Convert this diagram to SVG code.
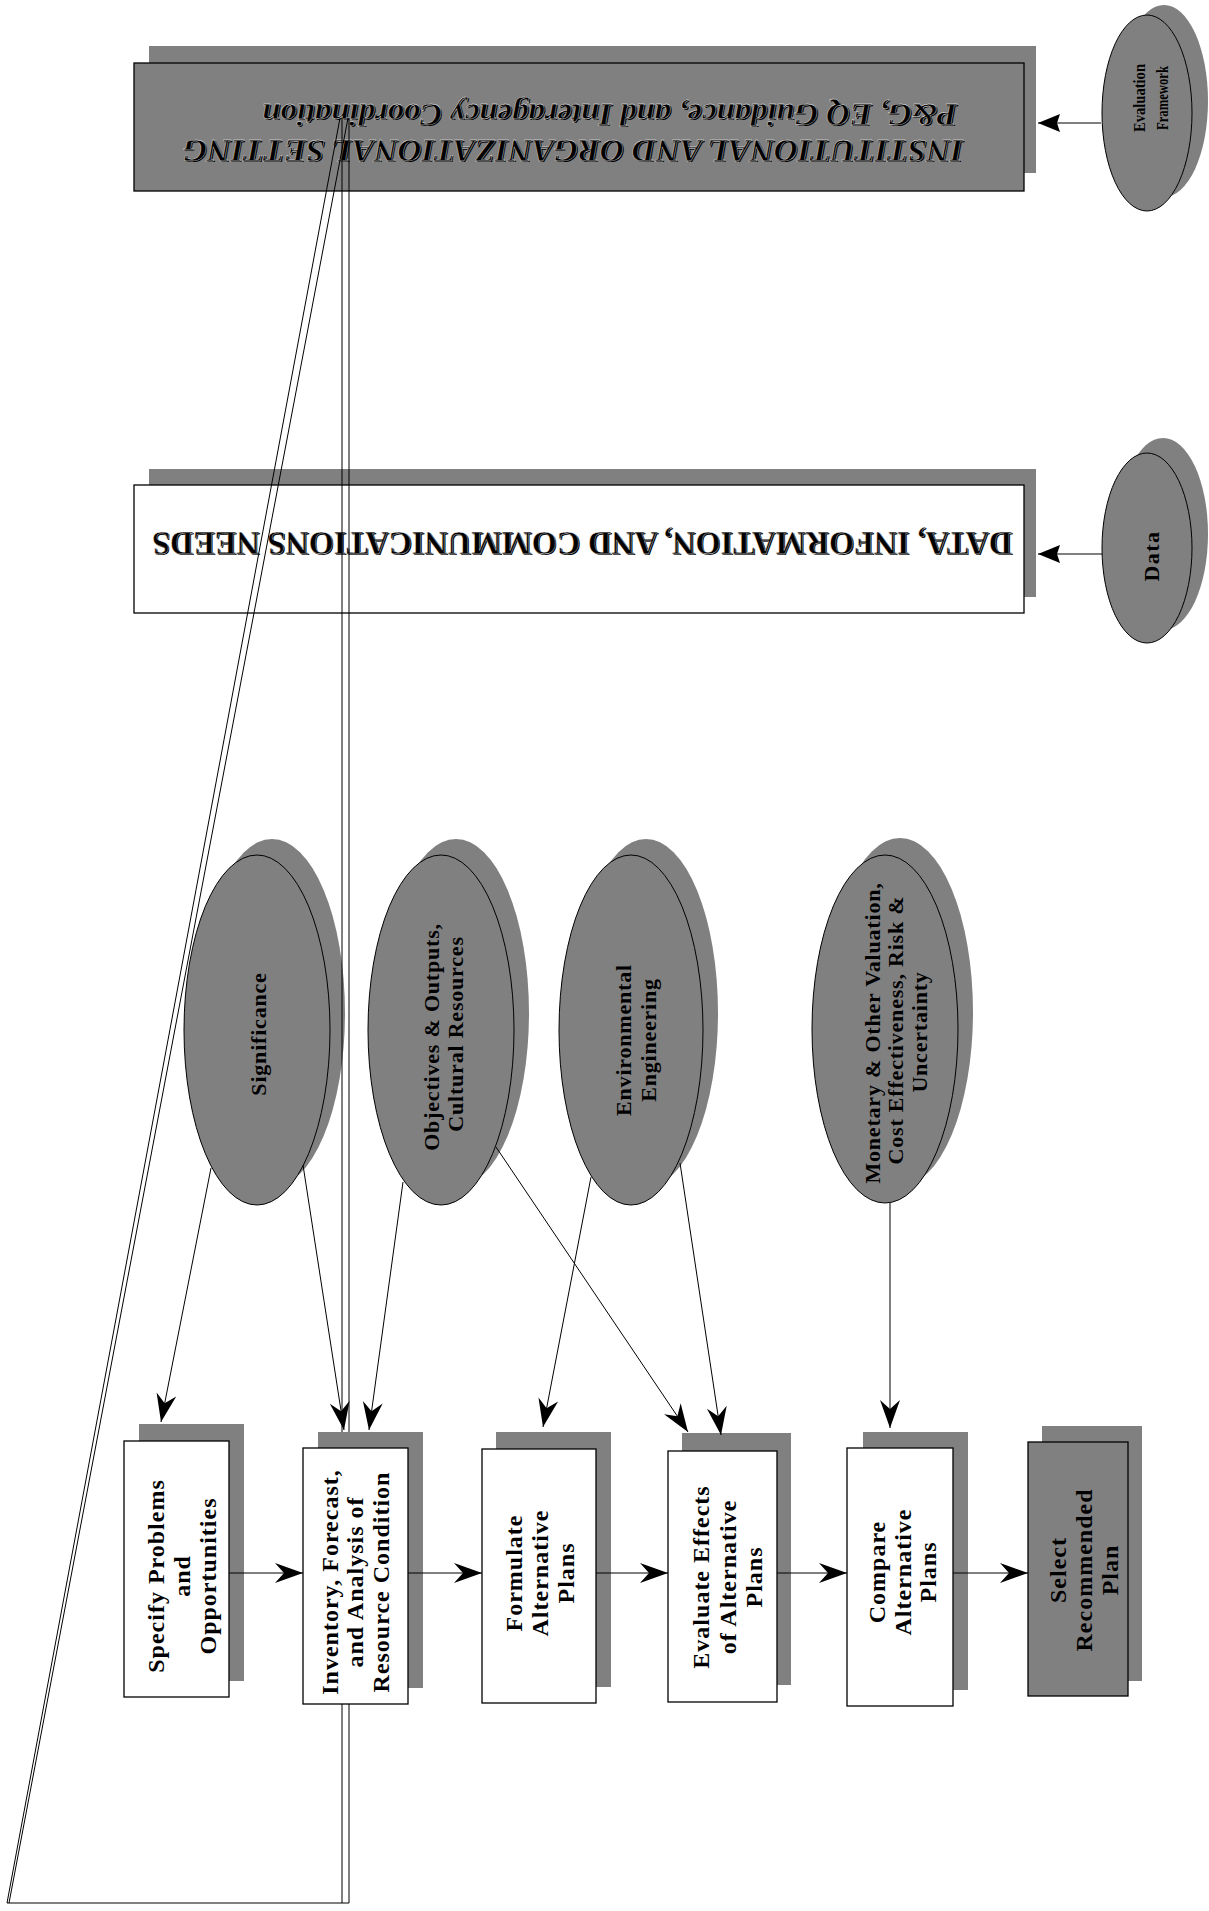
<svg xmlns="http://www.w3.org/2000/svg" width="1209" height="1911" viewBox="0 0 1209 1911">
<style>
.sh{fill:#808080}
.box{fill:#fff;stroke:#000;stroke-width:1.3}
.gbox{fill:#808080;stroke:#000;stroke-width:1.3}
.ell{fill:#808080;stroke:#000;stroke-width:1}
.t{font-family:"Liberation Serif",serif;font-weight:bold;font-size:24px;letter-spacing:1px;text-anchor:middle;fill:#000}
.et{font-family:"Liberation Serif",serif;font-weight:bold;font-size:22px;letter-spacing:0.8px;text-anchor:middle;fill:#000}
.st{font-family:"Liberation Serif",serif;font-weight:bold;text-anchor:middle;fill:#000}
.cap{font-family:"Liberation Serif",serif;font-weight:bold;fill:#000}
.capw{stroke:#fff;stroke-width:0.35}
.ln{stroke:#000;stroke-width:1;fill:none}
.ar{stroke:#000;stroke-width:1;fill:none;marker-end:url(#ah)}
.ar2{stroke:#000;stroke-width:1;fill:none;marker-end:url(#ah2)}
</style>
<defs>
<marker id="ah" viewBox="-29 -11 30 22" refX="0" refY="0" markerWidth="30" markerHeight="22" markerUnits="userSpaceOnUse" orient="auto"><path d="M0,0 L-28,-10 L-19,0 L-28,10 Z" fill="#000"/></marker>
<marker id="ah2" viewBox="-24 -10 25 20" refX="0" refY="0" markerWidth="25" markerHeight="20" markerUnits="userSpaceOnUse" orient="auto"><path d="M0,0 L-22,-9 L-19,0 L-22,9 Z" fill="#000"/></marker>
</defs>
<rect width="1209" height="1911" fill="#fff"/>

<g id="institutional">
<rect class="sh" x="149" y="46" width="887" height="127"/>
<rect class="gbox" x="134" y="63" width="890" height="128"/>
<g transform="translate(963,140) rotate(180)">
<text class="cap" x="-1.2" y="-1.2" font-size="32" font-style="italic" textLength="780" lengthAdjust="spacingAndGlyphs">INSTITUTIONAL AND ORGANIZATIONAL SETTING</text>
<text class="cap capw" x="0" y="0" font-size="32" font-style="italic" textLength="780" lengthAdjust="spacingAndGlyphs">INSTITUTIONAL AND ORGANIZATIONAL SETTING</text>
</g>
<g transform="translate(957,104) rotate(180)">
<text class="cap" x="-1.2" y="-1.2" font-size="31" font-style="italic" textLength="695" lengthAdjust="spacingAndGlyphs">P&amp;G, EQ Guidance, and Interagency Coordination</text>
<text class="cap capw" x="0" y="0" font-size="31" font-style="italic" textLength="695" lengthAdjust="spacingAndGlyphs">P&amp;G, EQ Guidance, and Interagency Coordination</text>
</g>
</g>

<g id="evaluation-framework">
<ellipse class="sh" cx="1164" cy="101" rx="44" ry="96"/>
<ellipse class="ell" cx="1147" cy="113" rx="45" ry="98"/>
<text class="st" style="font-size:16.5px" transform="translate(1145,98) rotate(-90)" textLength="68" lengthAdjust="spacingAndGlyphs">Evaluation</text>
<text class="st" style="font-size:16.5px" transform="translate(1168,98) rotate(-90)" textLength="64" lengthAdjust="spacingAndGlyphs">Framework</text>
</g>

<g id="data-needs">
<rect class="sh" x="149" y="469" width="887" height="128"/>
<rect class="box" x="134" y="485" width="890" height="128"/>
<g transform="translate(1012,532) rotate(180)">
<text class="cap" x="-1.2" y="-1.2" font-size="34" textLength="860" lengthAdjust="spacingAndGlyphs">DATA, INFORMATION, AND COMMUNICATIONS NEEDS</text>
<text class="cap capw" x="0" y="0" font-size="34" textLength="860" lengthAdjust="spacingAndGlyphs">DATA, INFORMATION, AND COMMUNICATIONS NEEDS</text>
</g>
</g>

<g id="data">
<ellipse class="sh" cx="1163" cy="534" rx="45" ry="96"/>
<ellipse class="ell" cx="1147" cy="548" rx="45" ry="95"/>
<text class="st" style="font-size:22px;letter-spacing:1.5px" transform="translate(1159,556) rotate(-90)">Data</text>
</g>

<g id="significance">
<ellipse class="sh" cx="272" cy="1013" rx="73" ry="174"/>
<ellipse class="ell" cx="257" cy="1030" rx="73" ry="175"/>
<text class="et" transform="translate(266,1034) rotate(-90)">Significance</text>
</g>

<g id="objectives">
<ellipse class="sh" cx="456" cy="1013" rx="73" ry="174"/>
<ellipse class="ell" cx="441" cy="1030" rx="73" ry="175"/>
<text class="et" transform="translate(439,1037) rotate(-90)">Objectives &amp; Outputs,</text>
<text class="et" transform="translate(463,1034) rotate(-90)">Cultural Resources</text>
</g>

<g id="environmental">
<ellipse class="sh" cx="646" cy="1013" rx="72" ry="174"/>
<ellipse class="ell" cx="631" cy="1030" rx="72" ry="175"/>
<text class="et" transform="translate(631,1040) rotate(-90)">Environmental</text>
<text class="et" transform="translate(656,1040) rotate(-90)">Engineering</text>
</g>

<g id="monetary">
<ellipse class="sh" cx="900" cy="1012" rx="73" ry="174"/>
<ellipse class="ell" cx="885" cy="1029" rx="73" ry="174"/>
<text class="et" transform="translate(880,1033) rotate(-90)">Monetary &amp; Other Valuation,</text>
<text class="et" transform="translate(903,1030) rotate(-90)">Cost Effectiveness, Risk &amp;</text>
<text class="et" transform="translate(927,1032) rotate(-90)">Uncertainty</text>
</g>

<g id="specify">
<rect class="sh" x="139" y="1424" width="105" height="257"/>
<rect class="box" x="124" y="1441" width="105" height="256"/>
<text class="t" transform="translate(164,1576) rotate(-90)">Specify Problems</text>
<text class="t" transform="translate(190,1576) rotate(-90)">and</text>
<text class="t" transform="translate(216,1576) rotate(-90)">Opportunities</text>
</g>

<g id="inventory">
<rect class="sh" x="318" y="1432" width="105" height="256"/>
<rect class="box" x="303" y="1448" width="105" height="256"/>
<text class="t" transform="translate(338,1582) rotate(-90)">Inventory, Forecast,</text>
<text class="t" transform="translate(363,1582) rotate(-90)">and Analysis of</text>
<text class="t" transform="translate(389,1582) rotate(-90)">Resource Condition</text>
</g>

<g id="formulate">
<rect class="sh" x="496" y="1432" width="115" height="255"/>
<rect class="box" x="482" y="1449" width="114" height="254"/>
<text class="t" transform="translate(522,1573) rotate(-90)">Formulate</text>
<text class="t" transform="translate(548,1573) rotate(-90)">Alternative</text>
<text class="t" transform="translate(574,1573) rotate(-90)">Plans</text>
</g>

<g id="evaluate">
<rect class="sh" x="682" y="1433" width="109" height="252"/>
<rect class="box" x="668" y="1451" width="109" height="251"/>
<text class="t" transform="translate(709,1577) rotate(-90)">Evaluate Effects</text>
<text class="t" transform="translate(736,1577) rotate(-90)">of Alternative</text>
<text class="t" transform="translate(762,1577) rotate(-90)">Plans</text>
</g>

<g id="compare">
<rect class="sh" x="863" y="1432" width="105" height="258"/>
<rect class="box" x="847" y="1448" width="106" height="258"/>
<text class="t" transform="translate(885,1572) rotate(-90)">Compare</text>
<text class="t" transform="translate(911,1572) rotate(-90)">Alternative</text>
<text class="t" transform="translate(936,1572) rotate(-90)">Plans</text>
</g>

<g id="select">
<rect class="sh" x="1042" y="1426" width="100" height="255"/>
<rect class="gbox" x="1028" y="1442" width="100" height="254"/>
<text class="t" transform="translate(1066,1570) rotate(-90)">Select</text>
<text class="t" transform="translate(1092,1570) rotate(-90)">Recommended</text>
<text class="t" transform="translate(1118,1570) rotate(-90)">Plan</text>
</g>

<g id="connectors">
<line class="ln" x1="342" y1="118" x2="342" y2="1432"/>
<line class="ln" x1="349" y1="118" x2="349" y2="1432"/>
<line class="ln" x1="342" y1="1704" x2="342" y2="1903"/>
<line class="ln" x1="349" y1="1704" x2="349" y2="1903"/>
<line class="ln" x1="340" y1="118" x2="7" y2="1903"/>
<line class="ln" x1="348" y1="118" x2="9" y2="1903"/>
<line class="ln" x1="7" y1="1903" x2="349" y2="1903"/>
<line class="ar2" x1="1101" y1="123" x2="1038" y2="123"/>
<line class="ar2" x1="1102" y1="554" x2="1038" y2="554"/>
<line class="ar" x1="211" y1="1168" x2="161" y2="1422"/>
<line class="ar" x1="303" y1="1165" x2="344" y2="1430"/>
<line class="ar" x1="403" y1="1182" x2="369" y2="1430"/>
<line class="ar" x1="496" y1="1147" x2="688" y2="1432"/>
<line class="ar" x1="591" y1="1177" x2="543" y2="1427"/>
<line class="ar" x1="680" y1="1163" x2="721" y2="1435"/>
<line class="ar" x1="890" y1="1203" x2="890" y2="1428"/>
<line class="ar" x1="229" y1="1573" x2="303" y2="1573"/>
<line class="ar" x1="408" y1="1573" x2="482" y2="1573"/>
<line class="ar" x1="596" y1="1573" x2="668" y2="1573"/>
<line class="ar" x1="777" y1="1573" x2="847" y2="1573"/>
<line class="ar" x1="953" y1="1573" x2="1028" y2="1573"/>
</g>
</svg>
